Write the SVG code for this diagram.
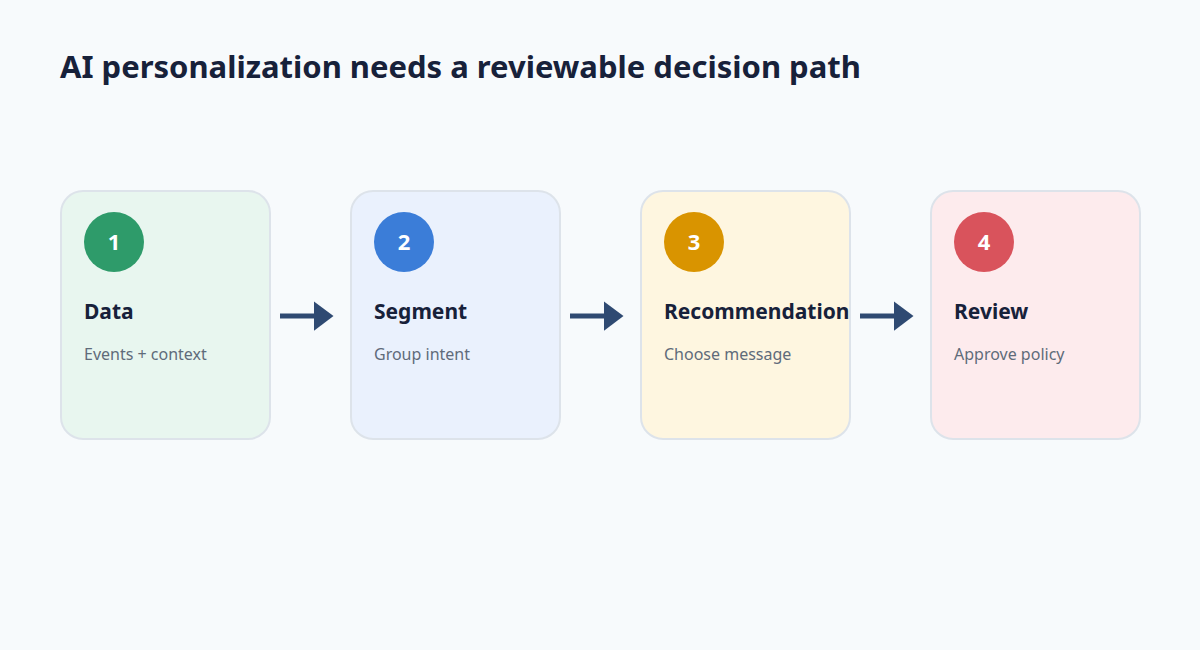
<svg xmlns="http://www.w3.org/2000/svg" width="1200" height="650" viewBox="0 0 1200 650">
<style>
text{font-family:"Noto Sans","Open Sans","DejaVu Sans",sans-serif}
.card{stroke:#dde3ea;stroke-width:2}
.num{fill:#fff;font-size:22px;font-weight:700;text-anchor:middle}
.h{fill:#17213a;font-size:21px;font-weight:700}
.s{fill:#5f6b7a;font-size:16px}
.c{stroke:#2f4a72;stroke-width:5;fill:none}
</style>
<defs><marker id="ah" markerWidth="4" markerHeight="6" refX="0.5" refY="3" orient="auto" markerUnits="strokeWidth"><path d="M0,0L4,3L0,6z" fill="#2f4a72"/></marker></defs>
<rect width="1200" height="650" fill="#f7fafc"/>
<text x="60" y="78" style="font-size:31px;font-weight:700;fill:#17213a">AI personalization needs a reviewable decision path</text>
<g id="connectors">
<path class="c" d="M280,316H316" marker-end="url(#ah)"/>
<path class="c" d="M570,316H606" marker-end="url(#ah)"/>
<path class="c" d="M860,316H896" marker-end="url(#ah)"/>
</g>
<g id="n1"><rect class="card" x="61" y="191" width="209" height="248" rx="22" fill="#e8f6ef"/><circle cx="114" cy="242" r="30" fill="#2e9b6a"/><text class="num" x="114" y="250">1</text><text class="h" x="84" y="319">Data</text><text class="s" x="84" y="360">Events + context</text></g>
<g id="n2"><rect class="card" x="351" y="191" width="209" height="248" rx="22" fill="#eaf1fd"/><circle cx="404" cy="242" r="30" fill="#3b7dd8"/><text class="num" x="404" y="250">2</text><text class="h" x="374" y="319">Segment</text><text class="s" x="374" y="360">Group intent</text></g>
<g id="n3"><rect class="card" x="641" y="191" width="209" height="248" rx="22" fill="#fef6e0"/><circle cx="694" cy="242" r="30" fill="#d99400"/><text class="num" x="694" y="250">3</text><text class="h" x="664" y="319">Recommendation</text><text class="s" x="664" y="360">Choose message</text></g>
<g id="n4"><rect class="card" x="931" y="191" width="209" height="248" rx="22" fill="#fdebed"/><circle cx="984" cy="242" r="30" fill="#d9535c"/><text class="num" x="984" y="250">4</text><text class="h" x="954" y="319">Review</text><text class="s" x="954" y="360">Approve policy</text></g>
</svg>
